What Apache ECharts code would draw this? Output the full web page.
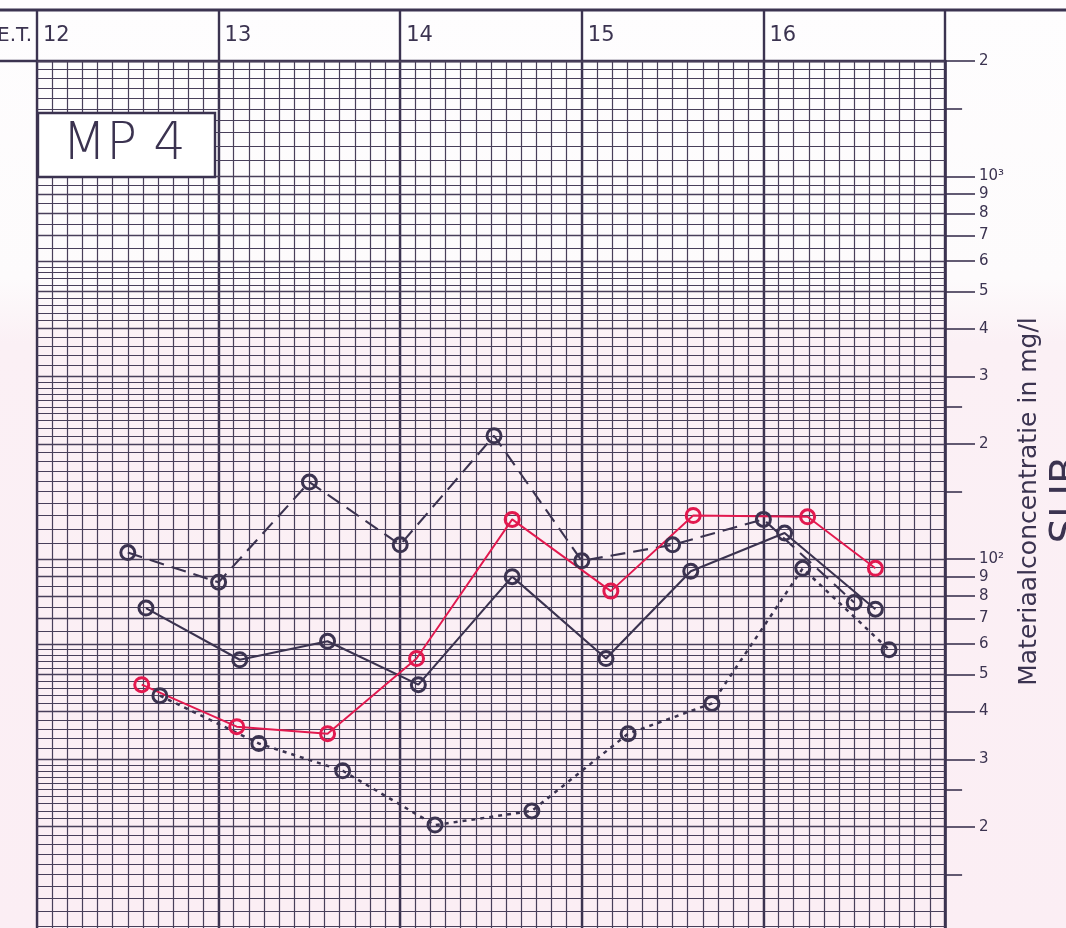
<!DOCTYPE html>
<html>
<head>
<meta charset="utf-8">
<script src="https://cdn.jsdelivr.net/npm/echarts@6/dist/echarts.min.js"></script>
<style>
  html, body { margin: 0; padding: 0; }
  #chart {
    width: 1066px;
    height: 928px;
    background: linear-gradient(to bottom, #fefdfe 0%, #fdfbfc 30%, #fbf0f5 37%, #fbeef4 100%);
  }
</style>
</head>
<body>
<div id="chart"></div>
<script>
// tijden in minuten (12:00 = 720), waarden in mg/l
const dashedTimes = [750, 780, 810, 840, 871, 900, 930, 960, 990];
const dashedValues = [104, 87, 159, 109, 210, 99, 109, 127, 77];

const solidTimes = [756, 787, 816, 846, 877, 908, 936, 967, 997];
const solidValues = [74.5, 54.6, 61, 47, 90, 55, 93, 117, 74];

const redTimes = [754.6, 786, 816, 845.4, 877, 909.6, 936.8, 974.6, 997];
const redValues = [47, 36.5, 35, 55, 127, 82.5, 130, 129, 94.6];

const dottedTimes = [760.6, 793.3, 821, 851.5, 883.5, 915.3, 943, 973, 1001.5];
const dottedValues = [44, 33, 28, 20.2, 22, 35, 42, 94.6, 58];

// rechter as
const tickValues = [2000, 1000, 900, 800, 700, 600, 500, 400, 300, 200,
  100, 90, 80, 70, 60, 50, 40, 30, 20, 10];
const tickLabels = ['2', '10³', '9', '8', '7', '6', '5', '4', '3', '2',
  '10²', '9', '8', '7', '6', '5', '4', '3', '2', '10¹'];
const halfTicks = [1500, 250, 150, 25, 15];

// kopregel
const hourTicks = [12, 13, 14, 15, 16];

const ink = '#3b3350';
const gridInk = '#483f5a';
const red = '#e2194f';
const font = 'DejaVu Sans';

// logaritmisch millimeterpapier
const paperSteps = [[1, 3, 0.1], [3, 6, 0.2], [6, 10, 0.5]];
const paperLines = [];
[10, 100, 1000].forEach((dec) => {
  paperSteps.forEach(([a, b, s]) => {
    for (let m = a; m < b - 1e-9; m += s) {
      const mm = Math.round(m * 100) / 100;
      const v = dec * mm;
      if (v <= 2000 + 1e-6) {
        paperLines.push({ v, major: Math.abs(mm - Math.round(mm)) < 1e-6 });
      }
    }
  });
});
paperLines.push({ v: 2000, major: true });

const pairs = (xs, ys) => xs.map((x, i) => [x, ys[i]]);

const chart = echarts.init(document.getElementById('chart'), null, { renderer: 'canvas' });

const lineSeries = (data, color, width, type) => ({
  type: 'line',
  data,
  xAxisIndex: 0,
  yAxisIndex: 0,
  symbol: 'circle',
  symbolSize: 14,
  showSymbol: true,
  silent: true,
  z: 5,
  lineStyle: { color, width, type },
  itemStyle: { color: 'rgba(0,0,0,0)', borderColor: color, borderWidth: 3 },
});

chart.setOption({
  backgroundColor: 'transparent',
  animation: false,
  grid: [
    { left: 37, right: 121, top: 61, bottom: -14, containLabel: false, outerBoundsMode: 'none' },
    { left: 945, right: 91, top: 61, bottom: -14, containLabel: false, outerBoundsMode: 'none' },
  ],
  xAxis: [
    {
      type: 'value', gridIndex: 0, min: 720, max: 1020, interval: 5,
      axisLine: { show: false }, axisTick: { show: false }, axisLabel: { show: false },
      splitLine: { show: true, lineStyle: { color: gridInk, width: 1.2 } },
    },
    {
      type: 'value', gridIndex: 0, position: 'top', min: 720, max: 1020, interval: 60,
      axisLine: { show: true, lineStyle: { color: ink, width: 2.4 } },
      axisTick: { show: true, inside: false, length: 51, lineStyle: { color: ink, width: 2.4 } },
      axisLabel: {
        show: true, margin: 25, align: 'left', verticalAlign: 'middle',
        padding: [0, 0, 0, 6], fontSize: 21, fontFamily: font, color: ink,
        formatter: (v) => (hourTicks.includes(v / 60) ? String(v / 60) : ''),
      },
      splitLine: { show: true, lineStyle: { color: ink, width: 2.4 } },
    },
    {
      type: 'value', gridIndex: 1, min: 0, max: 1, show: false,
    },
  ],
  yAxis: [
    {
      type: 'log', logBase: 10, gridIndex: 0, min: 10, max: 2000, position: 'right',
      axisLine: { show: true, lineStyle: { color: ink, width: 2.6 } },
      axisTick: { show: false }, axisLabel: { show: false }, splitLine: { show: false },
      name: 'Materiaalconcentratie in mg/l',
      nameLocation: 'middle', nameRotate: 90, nameGap: 72,
      nameTextStyle: { fontSize: 25, fontFamily: font, color: ink },
    },
    {
      type: 'log', logBase: 10, gridIndex: 1, min: 10, max: 2000, show: false,
    },
  ],
  series: [
    {
      // papierlijnen
      type: 'line', data: [], xAxisIndex: 0, yAxisIndex: 0, silent: true, z: 1,
      markLine: {
        silent: true, symbol: ['none', 'none'], animation: false,
        label: { show: false },
        emphasis: { disabled: true },
        lineStyle: { color: gridInk, width: 1.1, type: 'solid' },
        data: paperLines.map((p) => ({
          yAxis: p.v,
          lineStyle: { width: p.major ? 1.4 : 1.1, color: gridInk },
        })),
      },
    },
    {
      // schaalstreepjes rechts
      type: 'line', data: [], xAxisIndex: 2, yAxisIndex: 1, silent: true, z: 3,
      markLine: {
        silent: true, symbol: ['none', 'none'], animation: false,
        emphasis: { disabled: true },
        lineStyle: { color: ink, width: 1.6, type: 'solid' },
        label: {
          show: true, position: 'end', distance: 4, formatter: '{b}',
          fontSize: 15, fontFamily: font, color: ink,
        },
        data: tickValues.map((v, i) => ({ yAxis: v, name: tickLabels[i] }))
          .concat(halfTicks.map((v) => [
            { coord: [0, v], name: '' },
            { coord: [0.57, v], name: '' },
          ])),
      },
    },
    lineSeries(pairs(dashedTimes, dashedValues), ink, 2.1, [15, 8]),
    lineSeries(pairs(solidTimes, solidValues), ink, 2.1, 'solid'),
    lineSeries(pairs(dottedTimes, dottedValues), ink, 2.5, [4, 5]),
    lineSeries(pairs(redTimes, redValues), red, 1.9, 'solid'),
  ],
  graphic: [
    { type: 'line', z: 50, shape: { x1: 0, y1: 10, x2: 1066, y2: 10 }, style: { stroke: ink, lineWidth: 2.8 } },
    { type: 'line', z: 50, shape: { x1: 0, y1: 61, x2: 37, y2: 61 }, style: { stroke: ink, lineWidth: 2.4 } },
    { type: 'text', z: 50, x: -3, y: 36, style: { text: 'E.T.', fontSize: 20, fontFamily: font, fill: ink, verticalAlign: 'middle' } },
    { type: 'rect', z: 60, shape: { x: 38, y: 113, width: 177, height: 64 }, style: { fill: '#fff', stroke: ink, lineWidth: 2.4 } },
    {
      type: 'text', z: 61, x: 124, y: 146,
      style: { text: 'MP 4', fontSize: 51, fontFamily: font, fontWeight: 200, fill: ink, align: 'center', verticalAlign: 'middle' },
    },
    {
      type: 'text', z: 50, x: 1069, y: 500, rotation: Math.PI / 2,
      style: { text: 'SLIB', fontSize: 40, fontFamily: font, fill: ink, align: 'center', verticalAlign: 'middle' },
    },
  ],
});
</script>
</body>
</html>
